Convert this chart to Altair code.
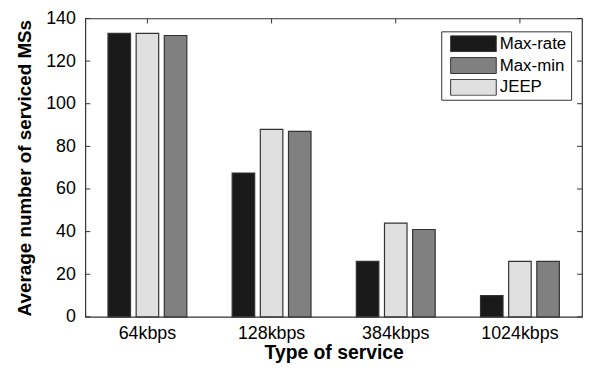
import altair as alt
import pandas as pd

services = ["64kbps", "128kbps", "384kbps", "1024kbps"]
max_rate = [133, 67.5, 26, 10]
max_min = [132, 87, 41, 26]
jeep = [133, 88, 44, 26]
series = ["Max-rate", "Max-min", "JEEP"]
bar_order = ["Max-rate", "JEEP", "Max-min"]
colors = ["#1a1a1a", "#808080", "#e0e0e0"]
y_ticks = [0, 20, 40, 60, 80, 100, 120, 140]

rows = []
for i, s in enumerate(services):
    rows.append({"service": s, "scheme": "Max-rate", "value": max_rate[i]})
    rows.append({"service": s, "scheme": "Max-min", "value": max_min[i]})
    rows.append({"service": s, "scheme": "JEEP", "value": jeep[i]})
df = pd.DataFrame(rows)
ticks_df = pd.DataFrame({"value": y_ticks})
cat_df = pd.DataFrame({"service": services})

W, H = 501, 301
FONT = "Liberation Sans"
LINE = "#333333"

x_axis = alt.Axis(title="Type of service", labelAngle=0, ticks=False, domain=False,
                  labelFontSize=18, labelPadding=8, titleFontSize=19.5,
                  titleFontWeight="bold", titlePadding=1)
x_scale = alt.Scale(paddingInner=0.365, paddingOuter=0.1825)
x_enc = alt.X("service:N", sort=services, scale=x_scale, axis=x_axis)

y_axis = alt.Axis(title="Average number of serviced MSs", values=y_ticks, ticks=False,
                  domain=False, grid=False, labelFontSize=18, labelPadding=10,
                  titleFontSize=19, titleFontWeight="bold", titlePadding=11)
y_scale = alt.Scale(domain=[0, 140], nice=False)
y_enc = alt.Y("value:Q", scale=y_scale, axis=y_axis)

legend = alt.Legend(
    title=None, orient="none", legendX=359, legendY=13, direction="vertical",
    symbolType="M-1,-0.35L1,-0.35L1,0.35L-1,0.35Z", symbolSize=2116,
    symbolStrokeColor=LINE, symbolStrokeWidth=1, symbolOpacity=1,
    clipHeight=17, rowPadding=4, labelFontSize=17, labelFont=FONT,
    labelOffset=3, symbolOffset=5, padding=4, strokeColor=LINE,
    fillColor="white", labelColor="black",
)

left_ticks = alt.Chart(ticks_df).mark_rule(color=LINE, strokeWidth=1).encode(
    y=y_enc, x=alt.value(0), x2=alt.value(5))
right_ticks = alt.Chart(ticks_df).mark_rule(color=LINE, strokeWidth=1).encode(
    y=y_enc, x=alt.value(W), x2=alt.value(W - 5))
top_ticks = alt.Chart(cat_df).mark_rule(color=LINE, strokeWidth=1).encode(
    x=x_enc, y=alt.value(0), y2=alt.value(5))
bottom_ticks = alt.Chart(cat_df).mark_rule(color=LINE, strokeWidth=1).encode(
    x=x_enc, y=alt.value(H), y2=alt.value(H - 5))

bars = alt.Chart(df).mark_bar(stroke=LINE, strokeWidth=1.2).encode(
    x=x_enc,
    xOffset=alt.XOffset("scheme:N", sort=bar_order,
                        scale=alt.Scale(paddingInner=0.2, paddingOuter=0)),
    y=y_enc,
    color=alt.Color("scheme:N", scale=alt.Scale(domain=series, range=colors),
                    legend=legend),
)

chart = alt.layer(left_ticks, right_ticks, top_ticks, bottom_ticks, bars).properties(
    width=W, height=H,
    padding={"left": 7, "top": 0, "right": 0, "bottom": 0},
).configure_view(stroke=LINE, strokeWidth=1.2).configure_axis(
    labelFont=FONT, titleFont=FONT, labelColor="black", titleColor="black"
).configure_legend(labelFont=FONT)

chart.save("out.html", embed_options={"renderer": "svg", "actions": False})
